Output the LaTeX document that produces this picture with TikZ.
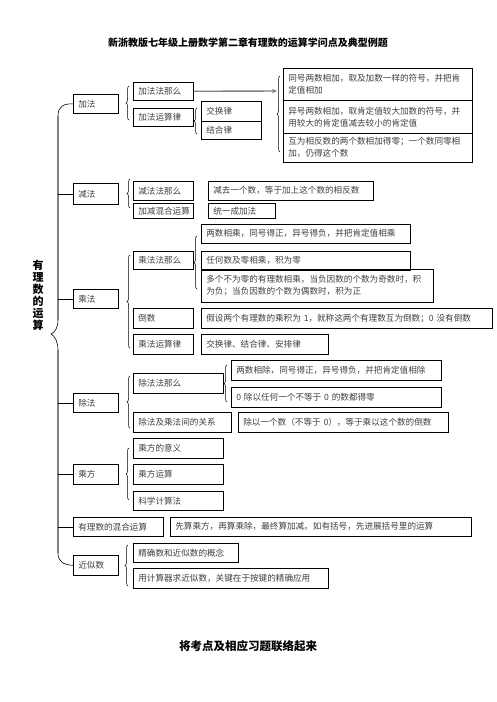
\documentclass[tikz,border=0pt]{standalone}
\usepackage{fontspec}
\setmainfont{Noto Sans CJK SC}
\usetikzlibrary{decorations.pathreplacing,arrows.meta}
\tikzset{
  box/.style={draw=black, line width=0.6pt, anchor=north west, align=left,
    inner xsep=5pt, inner ysep=0pt, text=black!75,
    font=\fontsize{8.6}{12}\selectfont},
  brc/.style={decorate, decoration={brace, amplitude=3pt}, draw=black, line width=0.5pt},
  spine/.style={draw=black!50, line width=1.4pt},
  thinl/.style={draw=black, line width=0.6pt},
  branch/.style={draw=black, line width=0.6pt},
}
\newcommand{\bx}[6]{\pgfmathsetmacro\tw{#4-10}\node[box, text width=\tw pt, minimum height=#5pt] (#1) at (#2,#3) {#6};}
\begin{document}
\begin{tikzpicture}[x=1pt,y=-1pt]
\useasboundingbox (0,0) rectangle (496,702);
\fill[white] (0,0) rectangle (496,702);

\node[font=\bfseries\fontsize{10}{12}\selectfont] (title) at (248,43) {新浙教版七年级上册数学第二章有理数的运算学问点及典型例题};
\node[font=\bfseries\fontsize{11}{12}\selectfont, align=center, inner sep=0pt] (root) at (38,295) {有\\理\\数\\的\\运\\算};

% level 1
\bx{jia}{73}{94}{45}{19}{加法}
\bx{jian}{73}{183}{45}{21}{减法}
\bx{cheng}{73}{289}{45}{19}{乘法}
\bx{chu}{73}{393}{45}{19}{除法}
\bx{fang}{73}{464}{45}{20}{乘方}
\bx{hun}{73}{517}{90}{19}{有理数的混合运算}
\bx{jin}{73}{555}{45}{20}{近似数}

% addition
\bx{a1}{133}{82}{60}{18}{加法法那么}
\bx{a2}{133}{108}{60}{18}{加法运算律}
\bx{a3}{201}{101}{60}{20}{交换律}
\bx{a4}{201}{121}{60}{18}{结合律}
\bx{r1}{283}{68}{189}{32}{同号两数相加，取及加数一样的符号，并把肯\\定值相加}
\bx{r2}{283}{100}{189}{33}{异号两数相加，取肯定值较大加数的符号，并\\用较大的肯定值减去较小的肯定值}
\bx{r3}{283}{133}{189}{29}{互为相反数的两个数相加得零；一个数同零相\\加，仍得这个数}

% subtraction
\bx{s1}{133}{181}{60}{19}{减法法那么}
\bx{s2}{133}{203}{60}{15}{加减混合运算}
\bx{s3}{208}{181}{165}{19}{减去一个数，等于加上这个数的相反数}
\bx{s4}{208}{203}{67}{15}{统一成加法}

% multiplication
\bx{m1}{133}{251}{60}{18}{乘法法那么}
\bx{m2}{133}{308}{60}{20}{倒数}
\bx{m3}{133}{334}{60}{20}{乘法运算律}
\bx{m4}{201}{224}{209}{19}{两数相乘，同号得正，异号得负，并把肯定值相乘}
\bx{m5}{201}{251}{209}{19}{任何数及零相乘，积为零}
\bx{m6}{201}{269}{232}{33}{多个不为零的有理数相乘，当负因数的个数为奇数时，积\\为负；当负因数的个数为偶数时，积为正}
\bx{m7}{201}{308}{291}{20}{假设两个有理数的乘积为 1，就称这两个有理数互为倒数；0 没有倒数}
\bx{m8}{201}{334}{127}{20}{交换律、结合律、安排律}

% division
\bx{d1}{133}{373}{90}{20}{除法法那么}
\bx{d2}{133}{412}{98}{20}{除法及乘法间的关系}
\bx{d3}{231}{360}{210}{20}{两数相除，同号得正，异号得负，并把肯定值相除}
\bx{d4}{231}{387}{210}{20}{0 除以任何一个不等于 0 的数都得零}
\bx{d5}{238}{412}{210}{20}{除以一个数（不等于 0），等于乘以这个数的倒数}

% powers
\bx{p1}{133}{438}{90}{20}{乘方的意义}
\bx{p2}{133}{464}{90}{20}{乘方运算}
\bx{p3}{133}{491}{90}{19}{科学计算法}

% mixed
\bx{h2}{170}{517}{301}{19}{先算乘方，再算乘除，最终算加减。如有括号，先进展括号里的运算}

% approximation
\bx{j1}{133}{543}{105}{19}{精确数和近似数的概念}
\bx{j2}{133}{568}{195}{20}{用计算器求近似数，关键在于按键的精确应用}

% spine
\coordinate (sp1) at (58,116);
\coordinate (sp2) at (58,320);
\coordinate (sptip) at (51,334);
\coordinate (sp3) at (58,350);
\coordinate (sp4) at (58,553);
\draw[thinl] (jia.west) .. controls (63,103.5) and (58,107) .. (sp1);
\draw[spine] (sp1) -- (sp2);
\draw[thinl] (sp2) .. controls (58,328) and (55,332) .. (sptip) .. controls (55,336) and (58,342) .. (sp3);
\draw[spine] (sp3) -- (sp4);
\draw[thinl] (sp4) .. controls (58,561) and (63,565) .. (jin.west);

\foreach \n in {jian,cheng,chu,fang,hun}{
  \draw[branch] (\n.west) -- (\n.west -| sp1);
}

% arrow
\coordinate (arr) at (277,91);
\draw[spine, -{Stealth[length=5pt,width=4.5pt]}] (a1.east) -- (arr);

% braces
\draw[brc] (129,120) -- (129,86);
\draw[brc] (197,134) -- (197,108);
\draw[brc] (280,152) -- (280,76);
\draw[brc] (130,208) -- (130,179);
\draw[brc] (130,348) -- (130,255);
\draw[brc] (197,289) -- (197,236);
\draw[brc] (130,428) -- (130,376);
\draw[brc] (227,402) -- (227,365);
\draw[brc] (129,500) -- (129,448);
\draw[brc] (128,586) -- (128,545);

\node[font=\bfseries\fontsize{11.5}{13}\selectfont] (foot) at (248,646) {将考点及相应习题联络起来};
\end{tikzpicture}
\end{document}
